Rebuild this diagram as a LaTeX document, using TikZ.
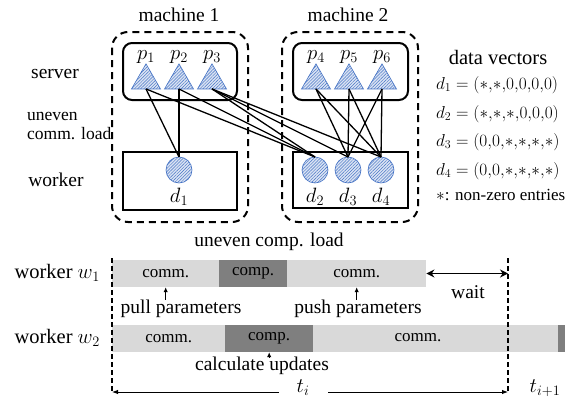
\documentclass[tikz,border=0pt]{standalone}
\usepackage{fontspec}
\setmainfont{Liberation Serif}
\usetikzlibrary{shapes.geometric,patterns.meta,arrows.meta}
\definecolor{hblue}{HTML}{4472C4}
\definecolor{hfill}{HTML}{DAE3F3}
\definecolor{lgray}{HTML}{D9D9D9}
\definecolor{dgray}{HTML}{7F7F7F}
\newcommand{\nz}{{\ast}}
\tikzset{
  lbl/.style={font=\fontsize{19.5}{21}\selectfont, inner sep=0pt},
  mlbl/.style={font=\fontsize{21}{23}\selectfont, inner sep=0pt},
  eqlbl/.style={font=\fontsize{18.4}{20}\selectfont, inner sep=0pt},
  barlbl/.style={font=\fontsize{17}{19}\selectfont, inner sep=0pt},
  hatch/.style={draw=hblue, line width=0.6pt, fill=hfill,
    postaction={pattern={Lines[angle=45,distance=2.2pt,line width=0.45pt]}, pattern color=hblue}},
  tri/.style={regular polygon, regular polygon sides=3, minimum size=33.5pt, inner sep=0pt, outer sep=0pt, hatch},
  circ/.style={circle, minimum size=26pt, inner sep=0pt, outer sep=0pt, hatch},
  machbox/.style={draw, line width=2pt, dash pattern=on 7pt off 5pt, rounded corners=16pt},
  srvbox/.style={draw, line width=2pt, rounded corners=9pt},
  wrkbox/.style={draw, line width=2pt},
  link/.style={line width=1.3pt},
  bar/.style={minimum height=27pt, inner sep=0pt, anchor=west, font=\fontsize{17}{19}\selectfont},
  upar/.style={line width=1pt, -{Latex[length=5pt,width=4.5pt]}},
  vdash/.style={line width=1.5pt, dash pattern=on 5pt off 3pt},
  tarr/.style={line width=0.9pt, -{Latex[length=6pt,width=4.5pt]}},
}
\begin{document}
\begin{tikzpicture}[x=1pt,y=-1pt]
\useasboundingbox (0,0) rectangle (571,410);
% machine boxes
\draw[machbox] (112,32) rectangle (248,222);
\draw[machbox] (282,32) rectangle (418,222);
\draw[srvbox] (123,43) rectangle (237,100);
\draw[srvbox] (293,43) rectangle (408,100);
\draw[wrkbox] (123,152) rectangle (237,210);
\draw[wrkbox] (293,152) rectangle (408,208);
\node[lbl] (m1) at (179,15) {machine 1};
\node[lbl] (m2) at (348,15) {machine 2};
\node[lbl] (srv) at (55,74) {server};
\node[lbl, font=\fontsize{17.5}{19}\selectfont, align=left, anchor=west] (ucl) at (27,126) {uneven\\comm. load};
\node[lbl] (wrk) at (56,180) {worker};
% parameters
\foreach \i/\x in {1/146,2/179,3/212,4/316,5/349,6/382}{
  \node[tri] (p\i) at (\x,80.6) {};
  \node[mlbl] (pl\i) at (\x,57) {$p_{\i}$};
}
% data
\foreach \i/\x in {1/179,2/315,3/348,4/381}{
  \node[circ] (d\i) at (\x,170) {};
  \node[mlbl] (dl\i) at (\x,197) {$d_{\i}$};
}
% links
\foreach \a/\b in {1/1,2/1,1/2,2/2,3/2,3/3,3/4,4/3,4/4,5/3,5/4,6/3,6/4}{
  \draw[link] (p\a.side 2) -- (d\b.north);
}
% data vectors
\node[lbl, font=\fontsize{20.5}{22}\selectfont] (dv) at (498,57) {data vectors};
\node[eqlbl, anchor=west] (e1) at (436,85) {$d_1=(\nz{,}\nz{,}0{,}0{,}0{,}0)$};
\node[eqlbl, anchor=west] (e2) at (436,114) {$d_2=(\nz{,}\nz{,}\nz{,}0{,}0{,}0)$};
\node[eqlbl, anchor=west] (e3) at (436,142) {$d_3=(0{,}0{,}\nz{,}\nz{,}\nz{,}\nz)$};
\node[eqlbl, anchor=west] (e4) at (436,171) {$d_4=(0{,}0{,}\nz{,}\nz{,}\nz{,}\nz)$};
\node[barlbl, anchor=west] (nzl) at (436,195) {$\ast$: non-zero entries};
% timeline
\node[lbl] (ucl2) at (269,242) {uneven comp. load};
\node[lbl, font=\fontsize{20.5}{22}\selectfont, anchor=east] (w1) at (100,273) {worker $w_1$};
\node[lbl, font=\fontsize{20.5}{22}\selectfont, anchor=east] (w2) at (100,338) {worker $w_2$};
\node[bar, fill=lgray, minimum width=107pt] (w1a) at (112,273.5) {comm.};
\node[bar, fill=dgray, minimum width=68pt] (w1b) at (219,273.5) {comp.};
\node[bar, fill=lgray, minimum width=139pt] (w1c) at (287,273.5) {comm.};
\node[bar, fill=lgray, minimum width=113pt] (w2a) at (112,338.5) {comm.};
\node[bar, fill=dgray, minimum width=88pt] (w2b) at (225,338.5) {comp.};
\node[bar, fill=lgray, minimum width=245pt] (w2c) at (313,338.5) {};
\node[bar, fill=dgray, minimum width=7pt] (w2d) at (558,338.5) {};
\node[barlbl] (w2cl) at (418,338) {comm.};
% dashed time lines
\coordinate (l0) at (112,258);
\coordinate (l1) at (112,392);
\coordinate (r0) at (508,258);
\coordinate (r1) at (508,392);
\draw[vdash] (l0) -- (l1);
\draw[vdash] (r0) -- (r1);
% wait
\draw[line width=1.8pt, {Stealth[length=8pt,width=8pt]}-{Stealth[length=8pt,width=8pt]}] (w1c.east) -- (w1c.east -| r0);
\node[lbl] (wait) at (468,292) {wait};
% annotations
\node[lbl] (pull) at (181,309) {pull parameters};
\node[lbl] (push) at (358,309) {push parameters};
\node[lbl] (calc) at (262,366) {calculate updates};
\draw[upar] (pull.north -| w1a.south) -- (w1a.south);
\draw[upar] (push.north -| w1c.south) -- (w1c.south);
\draw[upar] (calc.north -| w2b.south) -- (w2b.south);
% period
\node[lbl] (ti) at (303,388) {$t_i$};
\node[lbl] (ti1) at (545,388) {$t_{i+1}$};
\coordinate (ta) at (279,392);
\coordinate (tb) at (328,392);
\draw[tarr] (ta) -- (l1);
\draw[tarr] (tb) -- (r1);
\end{tikzpicture}
\end{document}
